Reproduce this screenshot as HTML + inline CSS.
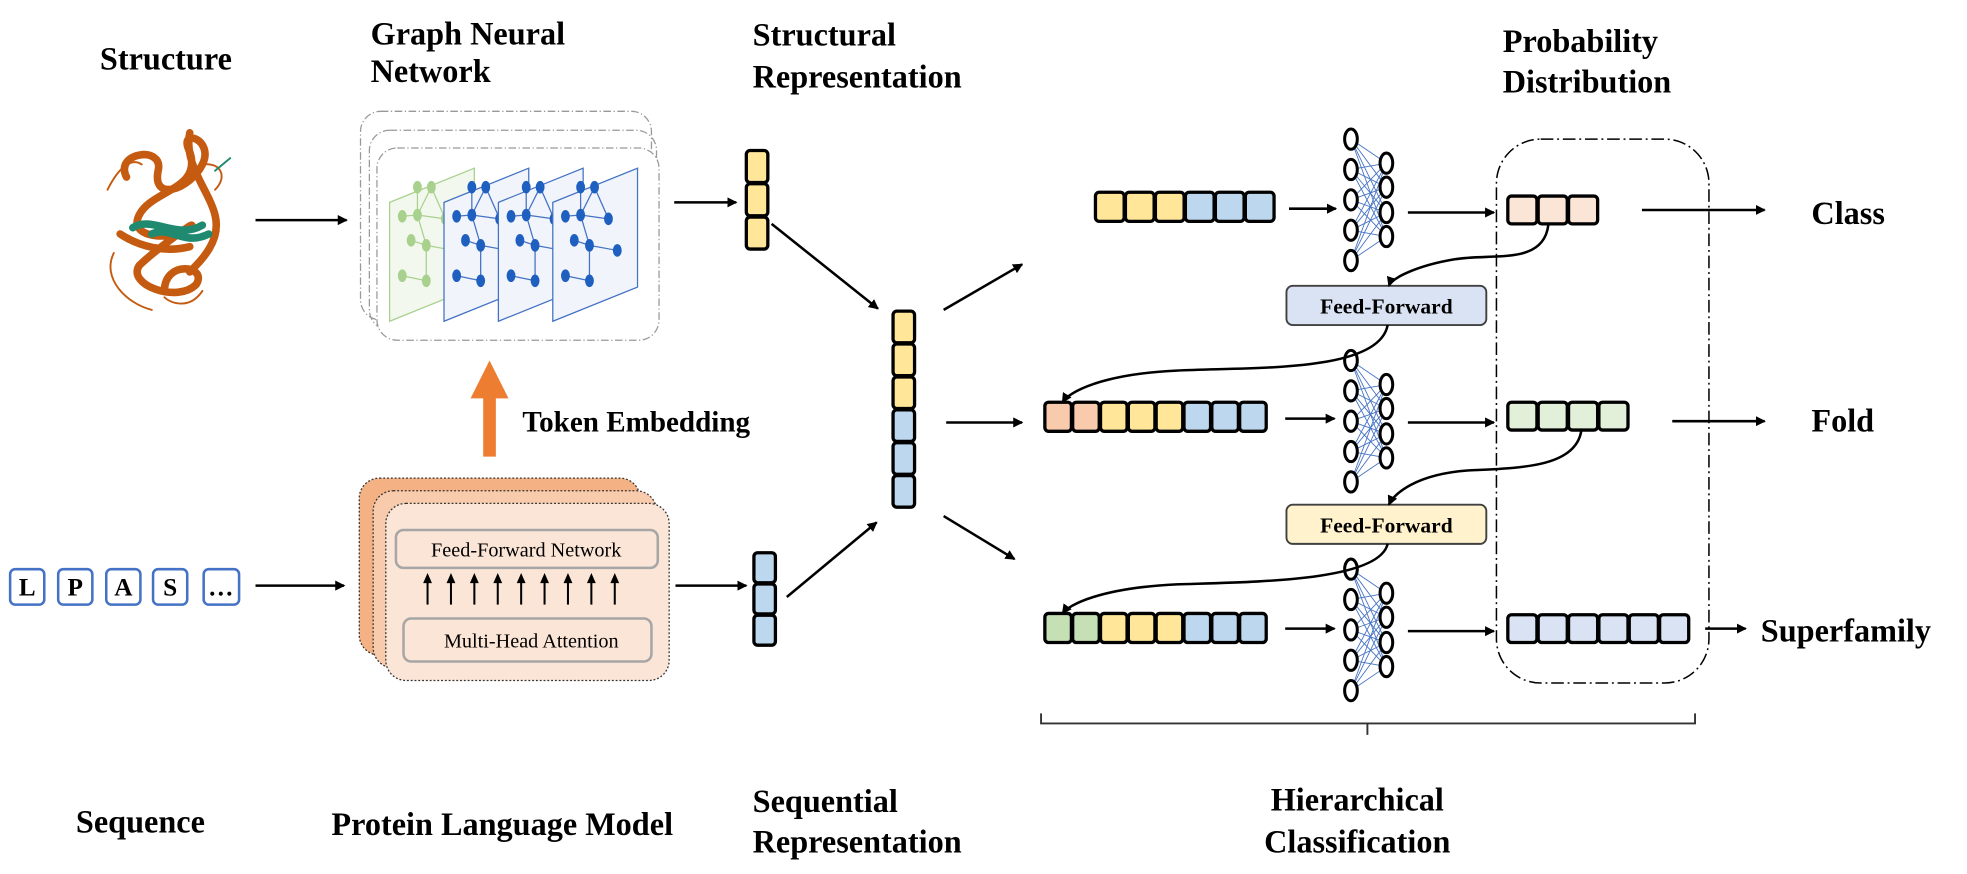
<!DOCTYPE html>
<html><head><meta charset="utf-8"><style>
html,body{margin:0;padding:0;background:#fff;}
svg{display:block;}
text{font-family:"Liberation Serif",serif;}
.t{font-weight:bold;font-size:25.5px;fill:#000;}
</style></head><body>
<svg id="s" width="1967" height="874" viewBox="0 0 1555 691" preserveAspectRatio="none" xmlns="http://www.w3.org/2000/svg">
<defs>
<marker id="ah" markerWidth="8" markerHeight="8" refX="7" refY="4" orient="auto" markerUnits="userSpaceOnUse"><path d="M0,0 L8,4 L0,8 Z" fill="#000"/></marker>
</defs>
<text class="t" x="79" y="55">Structure</text>
<text class="t" x="293" y="35">Graph Neural</text>
<text class="t" x="293" y="65">Network</text>
<text class="t" x="595" y="36">Structural</text>
<text class="t" x="595" y="69">Representation</text>
<text class="t" x="1188" y="41">Probability</text>
<text class="t" x="1188" y="73">Distribution</text>
<text class="t" x="60" y="658">Sequence</text>
<text class="t" x="262" y="660">Protein Language Model</text>
<text class="t" x="595" y="642">Sequential</text>
<text class="t" x="595" y="674">Representation</text>
<text class="t" x="1073" y="641" text-anchor="middle">Hierarchical</text>
<text class="t" x="1073" y="674" text-anchor="middle">Classification</text>
<text class="t" x="413" y="341" style="font-size:23px">Token Embedding</text>
<text class="t" x="1432" y="177">Class</text>
<text class="t" x="1432" y="341">Fold</text>
<text class="t" x="1392" y="507">Superfamily</text>

<g fill="none" stroke-linecap="round">
<path d="M100,140 C90,120 130,115 125,135 C120,160 150,150 160,130 C170,110 140,100 150,120 C160,150 120,150 110,170 C100,190 140,190 150,180 C160,170 120,200 110,210 C100,225 140,240 155,225 C165,210 130,205 130,230 M150,105 C145,130 165,150 170,170 C175,190 160,205 150,215 M95,185 C110,195 130,200 150,195" stroke="#c55a11" stroke-width="6"/>
<path d="M105,180 C120,170 140,190 160,178 M120,185 C135,178 145,195 165,185" stroke="#1f8a70" stroke-width="6"/>
<path d="M85,150 C95,130 105,125 112,130 M90,200 C80,220 100,240 120,245 M160,130 C175,128 180,140 170,150 M160,230 C150,245 135,240 130,235" stroke="#c55a11" stroke-width="1.5"/>
<path d="M170,135 L182,125" stroke="#1f8a70" stroke-width="1.5"/>
</g>

<g fill="none" stroke="#999" stroke-width="1" stroke-dasharray="6,2,1,2">
<rect x="285" y="88" width="230" height="165" rx="16"/>
<rect x="292" y="103" width="227" height="158" rx="16"/>
<rect x="298" y="117" width="223" height="152" rx="16" fill="#fff"/>
</g>
<g id="planes"></g>

<g stroke="#333" stroke-width="1" stroke-dasharray="1.5,1.5">
<rect x="284" y="378" width="222" height="140" rx="16" fill="#f4b183"/>
<rect x="295" y="388" width="224" height="140" rx="16" fill="#f8cbad"/>
<rect x="305" y="398" width="224" height="140" rx="16" fill="#fbe5d6"/>
</g>
<rect x="313" y="419" width="207" height="30" rx="6" fill="#fbe5d6" stroke="#a6a6a6" stroke-width="2"/>
<text x="416" y="440" text-anchor="middle" font-size="16">Feed-Forward Network</text>
<rect x="319" y="489" width="196" height="34" rx="6" fill="#fbe5d6" stroke="#a6a6a6" stroke-width="2"/>
<text x="420" y="512" text-anchor="middle" font-size="16">Multi-Head Attention</text>
<g id="attn-arrows"></g>

<path d="M382,361 L382,315 L372,315 L387,285 L402,315 L392,315 L392,361 Z" fill="#ed7d31"/>

<g id="tokens"></g>
<g id="vecs"></g>
<g id="nns"></g>

<rect x="1183" y="110" width="168" height="430" rx="35" fill="none" stroke="#000" stroke-width="1.2" stroke-dasharray="10,3,1.5,3"/>

<rect x="1017" y="226" width="158" height="31" rx="5" fill="#dae3f3" stroke="#404040" stroke-width="1.5"/>
<text x="1096" y="248" text-anchor="middle" font-size="17" font-weight="bold">Feed-Forward</text>
<rect x="1017" y="399" width="158" height="31" rx="5" fill="#fff2cc" stroke="#404040" stroke-width="1.5"/>
<text x="1096" y="421" text-anchor="middle" font-size="17" font-weight="bold">Feed-Forward</text>

<g stroke="#000" stroke-width="2" fill="none" marker-end="url(#ah)">
<line x1="202" y1="174" x2="274" y2="174"/>
<line x1="533" y1="160" x2="582" y2="160"/>
<line x1="610" y1="177" x2="694" y2="244"/>
<line x1="202" y1="463" x2="272" y2="463"/>
<line x1="534" y1="463" x2="590" y2="463"/>
<line x1="622" y1="472" x2="693" y2="413"/>
<line x1="746" y1="245" x2="808" y2="209"/>
<line x1="748" y1="334" x2="808" y2="334"/>
<line x1="746" y1="408" x2="802" y2="442"/>
<line x1="1019" y1="165" x2="1056" y2="165"/>
<line x1="1113" y1="168" x2="1181" y2="168"/>
<line x1="1298" y1="166" x2="1395" y2="166"/>
<line x1="1016" y1="331" x2="1055" y2="331"/>
<line x1="1113" y1="334" x2="1181" y2="334"/>
<line x1="1322" y1="333" x2="1395" y2="333"/>
<line x1="1016" y1="497" x2="1055" y2="497"/>
<line x1="1113" y1="499" x2="1181" y2="499"/>
<line x1="1348" y1="497" x2="1380" y2="497"/>
<path d="M1224,178 C1220,210 1180,200 1150,205 C1120,210 1100,220 1098,226"/>
<path d="M1097,257 C1090,295 990,290 930,293 C870,296 845,310 840,318"/>
<path d="M1250,341 C1245,370 1200,370 1160,372 C1120,375 1102,390 1098,399"/>
<path d="M1097,430 C1090,460 990,460 930,462 C870,465 845,478 840,485"/>
</g>
<path d="M823,564 L823,572 L1081,572 L1081,581 M1081,572 L1340,572 L1340,564" fill="none" stroke="#333" stroke-width="1.5"/>

<script>
const NS="http://www.w3.org/2000/svg";
function mk(tag,attrs,parent){const e=document.createElementNS(NS,tag);for(const k in attrs)e.setAttribute(k,attrs[k]);parent.appendChild(e);return e;}
const C={y:"#ffe699",b:"#bdd7ee",o:"#f8cbad",p:"#fbe5d6",g:"#c5e0b4",lg:"#e2f0d9",lb:"#dae3f3"};
const vectors=[
 ["structural-vector",590,119,17,26.3,true,["y","y","y"]],
 ["combined-vector",706,246,17,26,true,["y","y","y","b","b","b"]],
 ["sequential-vector",596,437,17,24.7,true,["b","b","b"]],
 ["class-input-vector",866,152,23.7,23,false,["y","y","y","b","b","b"]],
 ["fold-input-vector",826,318,22,23,false,["o","o","y","y","y","b","b","b"]],
 ["superfamily-input-vector",826,485,22,23,false,["g","g","y","y","y","b","b","b"]],
 ["class-prob-vector",1192,155,24,22,false,["p","p","p"]],
 ["fold-prob-vector",1192,318,24,22,false,["lg","lg","lg","lg"]],
 ["superfamily-prob-vector",1192,486,24,22,false,["lb","lb","lb","lb","lb","lb"]]
];
const vg=document.getElementById("vecs");
vectors.forEach(v=>{
 const g=mk("g",{},vg);
 
 
 v[6].forEach((c,i)=>{
  const x=v[5]?v[1]:v[1]+i*v[3], y=v[5]?v[2]+i*v[4]:v[2];
  const r=mk("rect",{x:x,y:y,width:v[5]?v[3]:v[3]-1,height:v[5]?v[4]-1:v[4],rx:3,fill:C[c],stroke:"#000","stroke-width":2.6},g);
  
  
 });
});
const nnY=[158,333,498];
const ng=document.getElementById("nns");
nnY.forEach(cy=>{
 const g=mk("g",{},ng);
 
 
 const ins=[-48,-24,0,24,48].map(d=>cy+d), outs=[-29,-10,10,29].map(d=>cy+d);
 ins.forEach(a=>outs.forEach(b=>mk("line",{x1:1068,y1:a,x2:1096,y2:b,stroke:"#4472c4","stroke-width":0.7},g)));
 ins.forEach(a=>mk("ellipse",{cx:1068,cy:a,rx:5,ry:8,fill:"#fff",stroke:"#000","stroke-width":2.4},g));
 outs.forEach(b=>mk("ellipse",{cx:1096,cy:b,rx:5,ry:8,fill:"#fff",stroke:"#000","stroke-width":2.4},g));
});
const tokens=["L","P","A","S","…"];
const tokX=[8,46,84,121,161];
const tg=document.getElementById("tokens");
tokens.forEach((t,i)=>{
 const g=mk("g",{},tg);
 
 
 mk("rect",{x:tokX[i],y:450,width:i==4?28:27,height:28,rx:4,fill:"#fff",stroke:"#4472c4","stroke-width":2},g);
 const tx=mk("text",{x:tokX[i]+13.5,y:471,"text-anchor":"middle","font-size":20,"font-weight":"bold"},g);
 tx.textContent=t;
});
const ag=document.getElementById("attn-arrows");
for(let i=0;i<9;i++){
 const x=338+i*18.5;
 const l=mk("line",{x1:x,y1:478,x2:x,y2:458,stroke:"#000","stroke-width":1.6},ag);
 
 
 mk("path",{d:`M${x-3.5},461 L${x},453 L${x+3.5},461 Z`,fill:"#000"},ag);
}
const pg=document.getElementById("planes");
const planeX=[308,351,394,437];
planeX.forEach((px,i)=>{
 const g=mk("g",{},pg);
 
 
 const col=i==0?"#a9d18e":"#4472c4", fill=i==0?"#f3f8ef":"#f1f5fb", node=i==0?"#a9d18e":"#1f5fbf";
 mk("path",{d:`M${px},160 L${px+67},133 L${px+67},227 L${px},254 Z`,fill:fill,stroke:col,"stroke-width":1},g);
 const nodes=[[22,148],[33,148],[10,171],[22,170],[44,173],[17,190],[29,194],[51,198],[10,218],[29,222]];
 const edges=[[0,3],[1,3],[3,2],[3,4],[3,6],[5,6],[6,7],[6,9],[8,9],[1,4]];
 edges.forEach(e=>mk("line",{x1:px+nodes[e[0]][0],y1:nodes[e[0]][1],x2:px+nodes[e[1]][0],y2:nodes[e[1]][1],stroke:col,"stroke-width":1},g));
 nodes.forEach(n=>mk("ellipse",{cx:px+n[0],cy:n[1],rx:3.5,ry:5,fill:node},g));
});
</script>
</svg>
</body></html>
